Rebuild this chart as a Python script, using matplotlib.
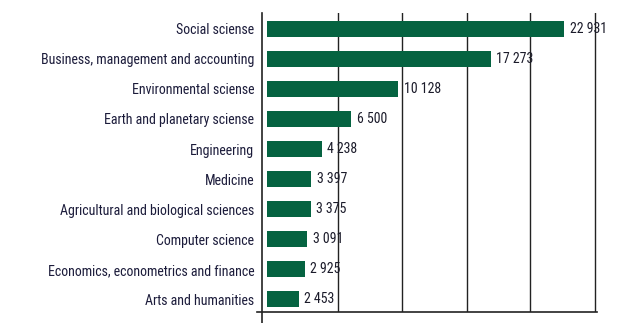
import matplotlib
matplotlib.use("Agg")
import matplotlib.pyplot as plt
from matplotlib import font_manager
import numpy as np

# Data
categories = [
    "Social sciense",
    "Business, management and accounting",
    "Environmental sciense",
    "Earth and planetary sciense",
    "Engineering",
    "Medicine",
    "Agricultural and biological sciences",
    "Computer science",
    "Economics, econometrics and finance",
    "Arts and humanities",
]
values = [22931, 17273, 10128, 6500, 4238, 3397, 3375, 3091, 2925, 2453]
value_labels = ["22 931", "17 273", "10 128", "6 500", "4 238",
                "3 397", "3 375", "3 091", "2 925", "2 453"]

# vertical grid lines (not evenly aligned with the bar scale in the original)
grid_x = [5480, 10400, 15440, 20300, 25320]

# look for a narrow font file, the original uses a condensed face
font_file = None
for wanted in ['LiberationSansNarrow-Regular', 'RobotoCondensed-Regular',
               'DejaVuSansCondensed.ttf', 'OpenSans_Condensed-Regular']:
    for f in font_manager.fontManager.ttflist:
        if wanted in f.fname:
            font_file = f.fname
            break
    if font_file:
        break

if font_file:
    fp = font_manager.FontProperties(fname=font_file, size=10)
    if 'DejaVu' in font_file:
        fp.set_size(9)
else:
    fp = font_manager.FontProperties(family='Liberation Sans', size=9)

fig = plt.figure(figsize=(6.23, 3.23), dpi=100)
ax = fig.add_axes([257 / 623, 11 / 323, 340 / 623, 299 / 323])

y = np.arange(len(categories))
ax.barh(y, values, height=0.53, color='#056341', zorder=2)

ax.set_xlim(-772, 25479)
ax.set_ylim(len(categories) - 1 + 0.42, -0.526)

# value labels
for yi, v, lab in zip(y, values, value_labels):
    ax.annotate(lab, (v, yi), xytext=(4, 0), textcoords='offset points',
                va='center', ha='left', fontproperties=fp, color='#1b1b2a', zorder=3)

# category labels
ax.set_yticks(y)
ax.set_yticklabels(categories, fontproperties=fp, color='#1b1b3a')
ax.tick_params(axis='y', length=0, pad=2)
ax.set_xticks(grid_x)
ax.set_xticklabels([])
ax.tick_params(axis='x', length=0)
ax.grid(axis='x', color='#222222', linewidth=1)
ax.set_axisbelow(True)

for s in ['top', 'right', 'left']:
    ax.spines[s].set_visible(False)
ax.spines['bottom'].set_color('#222222')
ax.spines['bottom'].set_linewidth(1.2)

# left axis line, running a little below the bottom axis
ax.axvline(-386, ymin=-0.037, ymax=1, color='#222222', linewidth=1.2, clip_on=False)

fig.savefig("out.png", dpi=100)
